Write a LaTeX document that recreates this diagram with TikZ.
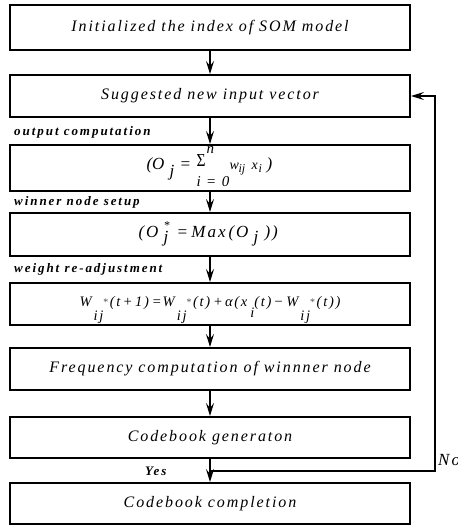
\documentclass[tikz,border=0pt]{standalone}
\usepackage{amsmath}
\usepackage{graphicx}
\usepackage{fontspec}
\setmainfont{Liberation Serif}
\usetikzlibrary{arrows.meta}
\newfontfamily\bxfont[LetterSpace=12]{Liberation Serif}
\newfontfamily\lbfont[LetterSpace=15]{Liberation Serif}
\newcommand{\smallsz}{\fontsize{12}{12}\selectfont}
\newcommand{\limsz}{\fontsize{15}{15}\selectfont}
\newcommand{\pc}[2]{\makebox[#1][l]{#2}}
\newcommand{\Wst}{W\hspace{2pt}\raisebox{-14pt}{ij}\hspace{-0.5pt}\raisebox{1pt}{\fontsize{10}{10}\selectfont\color{black!70}*}}
\tikzset{
  box/.style={draw, line width=2pt, minimum width=400pt, inner sep=0pt,
    font=\fontsize{16}{19}\selectfont\bxfont\itshape},
  lbl/.style={font=\fontsize{13}{15}\selectfont\lbfont\bfseries\itshape,
    anchor=base west, inner sep=0pt},
  arr/.style={line width=2pt, -{Stealth[length=13pt,width=8pt,inset=5pt]}}
}
\begin{document}
\begin{tikzpicture}[x=1pt,y=-1pt]
\useasboundingbox (0,0) rectangle (458,525);
\node[box, minimum height=45pt] (n1) at (210,27.5) {Initialized the index of SOM model};
\node[box, minimum height=42pt] (n2) at (210,96) {Suggested new input vector};
\node[box, minimum height=46pt, text height=5pt, text depth=3pt,
      font=\fontsize{17}{19}\selectfont\itshape] (n3) at (210,168)
  {\pc{23pt}{(O}\pc{10pt}{\raisebox{-7pt}{j}}\pc{17pt}{=}\pc{33pt}{\rlap{\raisebox{3pt}{\upshape\resizebox{9pt}{12pt}{Σ}}}\rlap{\hspace{10pt}\raisebox{16pt}{\limsz n}}\raisebox{-17pt}{\limsz\bxfont i = 0}}\pc{9pt}{\fontsize{14}{14}\selectfont w}\pc{13pt}{\raisebox{-3pt}{\smallsz ij}}\pc{7pt}{\fontsize{14}{14}\selectfont x}\pc{8pt}{\raisebox{-3pt}{\smallsz i}}\pc{7pt}{)}\hspace{13pt}};
\node[box, minimum height=43pt, text height=7pt, text depth=2pt,
      font=\fontsize{17}{19}\selectfont\bxfont\itshape] (n4) at (210,234.5)
  {\pc{25pt}{(O}\pc{13pt}{\rlap{\raisebox{8pt}{\smallsz *}}\raisebox{-5pt}{j}}\pc{15pt}{=}\pc{37pt}{Max}\pc{25pt}{(O}\pc{11pt}{\raisebox{-5pt}{j}}\pc{17pt}{))}\hspace{3pt}};
\node[box, minimum height=42pt, text height=6pt, text depth=2pt, font=\fontsize{14.5}{16}\selectfont\bxfont\itshape] (n5) at (210,304)
  {\Wst\hspace{2pt}(t\,+\,1)\hspace{3pt}=\hspace{1pt}\Wst\hspace{2pt}(t)\hspace{3pt}+\hspace{2pt}α(x\hspace{3pt}\raisebox{-11pt}{i}(t)\hspace{2pt}−\hspace{3pt}\Wst\hspace{2pt}(t))};
\node[box, minimum height=42pt] (n6) at (210,369) {Frequency computation of winnner node};
\node[box, minimum height=41pt] (n7) at (210,437.5) {Codebook generaton};
\node[box, minimum height=41pt] (n8) at (210,503.5) {Codebook completion};

\node[lbl] (l1) at (14,135) {output computation};
\node[lbl] (l2) at (14,205) {winner node setup};
\node[lbl] (l3) at (14,272.5) {weight re-adjustment};
\node[lbl] (l4) at (145,475) {Yes};
\node[font=\fontsize{17}{19}\selectfont\bxfont\itshape, anchor=base west, inner sep=0pt] (l5) at (438,465.5) {No};

\draw[arr] (n1) -- (n2);
\draw[arr] (n2) -- (n3);
\draw[arr] (n3) -- (n4);
\draw[arr] (n4) -- (n5);
\draw[arr] (n5) -- (n6);
\draw[arr] (n6) -- (n7);
\draw[arr] (n7) -- (n8);
\coordinate (j) at (210,471);
\draw[arr] (j) -- (435,471) |- (n2.east);
\end{tikzpicture}
\end{document}
